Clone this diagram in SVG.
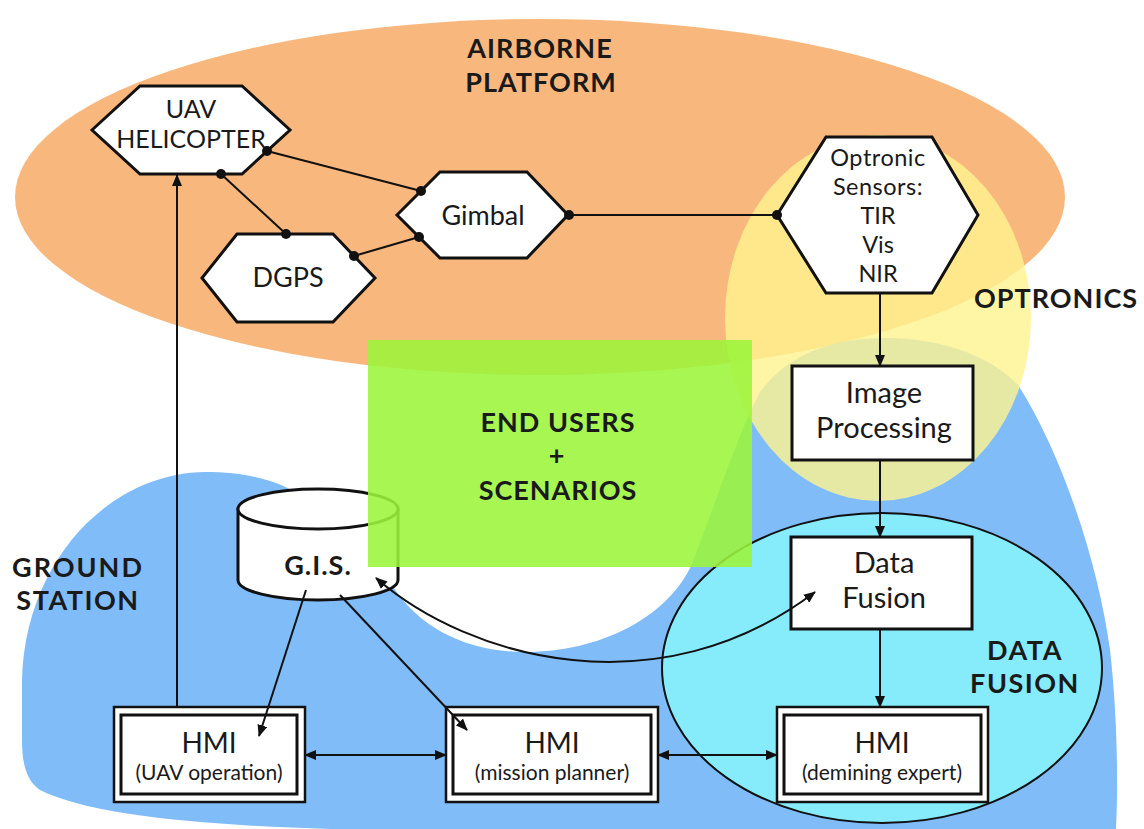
<svg xmlns="http://www.w3.org/2000/svg" width="1144" height="829" viewBox="0 0 1144 829">
<defs>
<marker id="ah" viewBox="0 0 12 10" markerWidth="12" markerHeight="10" refX="11" refY="5" orient="auto-start-reverse" markerUnits="userSpaceOnUse">
<path d="M0,0 L12,5 L0,10 z" fill="#111"/>
</marker>
<style>
.t{font-family:Lato,"Open Sans","DejaVu Sans",sans-serif;fill:#1a1a1a;text-anchor:middle}
.b{font-weight:bold;font-size:27px;letter-spacing:1px}
.hex{fill:#fff;stroke:#111;stroke-width:3;stroke-linejoin:miter}
.box{fill:#fff;stroke:#111;stroke-width:3}
.obox{fill:#fff;stroke:#111;stroke-width:2.5}
.ln{fill:none;stroke:#111;stroke-width:2}
.dot{fill:#111}
.sub{font-size:21px}
.hmi{font-size:28px}
.opt{font-size:23.5px}
</style>
</defs>
<rect width="1144" height="829" fill="#fff"/>
<g id="regions">
<ellipse id="airborne-region" cx="540" cy="197" rx="525" ry="178" fill="#f8b77d"/>
<path id="ground-region" d="M22,680 C25,560 110,473 205,472 C250,472 280,482 300,495 L392,585 C420,630 470,652 525,652 C600,652 665,618 690,568 C710,520 735,440 760,392 C790,352 835,338 885,338 C940,338 990,355 1018,385 C1060,450 1098,560 1110,650 C1118,720 1118,790 1116,829 L330,829 C200,825 90,815 40,790 C25,780 22,760 22,740 Z" fill="#80bcf8"/>
<ellipse id="optronics-region" cx="878" cy="318" rx="153" ry="183" fill="#fff48e" fill-opacity="0.8"/>
<ellipse id="fusion-region" cx="882" cy="668" rx="220" ry="155" fill="#86ebfb" stroke="#111" stroke-width="2"/>
</g>
<g id="gis">
<path d="M238,509 L238,580 A80,20 0 0 0 398,580 L398,509 Z" fill="#fff" stroke="#111" stroke-width="3"/>
<ellipse cx="318" cy="509" rx="80" ry="20" fill="#fff" stroke="#111" stroke-width="3"/>
<text class="t b" x="318" y="575">G.I.S.</text>
</g>
<rect id="endusers-region" x="368" y="340" width="384" height="227" fill="#9cf53a" fill-opacity="0.88"/>
<g id="labels">
<text class="t b" x="540" y="58">AIRBORNE</text>
<text class="t b" x="541" y="92">PLATFORM</text>
<text class="t b" x="1056" y="308">OPTRONICS</text>
<text class="t b" x="558" y="432">END USERS</text>
<text class="t b" x="557" y="465">+</text>
<text class="t b" x="558" y="500">SCENARIOS</text>
<text class="t b" x="78" y="577" style="letter-spacing:2px">GROUND</text>
<text class="t b" x="78" y="610" style="letter-spacing:1.5px">STATION</text>
<text class="t b" x="1025" y="660" style="letter-spacing:1.5px">DATA</text>
<text class="t b" x="1025" y="693" style="letter-spacing:1.5px">FUSION</text>
</g>
<g id="uav">
<polygon class="hex" points="92,130 140,86 242,86 290,130 242,174 140,174"/>
<text class="t" x="191" y="118" font-size="25">UAV</text>
<text class="t" x="191" y="148" font-size="25">HELICOPTER</text>
</g>
<g id="dgps">
<polygon class="hex" points="202,278 237,234 333,234 375,278 333,322 237,322"/>
<text class="t" x="288" y="287" font-size="27">DGPS</text>
</g>
<g id="gimbal">
<polygon class="hex" points="397,215 440,172 527,172 568,215 527,258 440,258"/>
<text class="t" x="483" y="225" font-size="27">Gimbal</text>
</g>
<g id="optronic">
<polygon class="hex" points="777,215 826,137 932,137 978,215 932,293 826,293"/>
<text class="t opt" x="878" y="166" style="letter-spacing:0.5px">Optronic</text>
<text class="t opt" x="878" y="195" style="letter-spacing:0.5px">Sensors:</text>
<text class="t opt" x="878" y="224">TIR</text>
<text class="t opt" x="878" y="253">Vis</text>
<text class="t opt" x="878" y="282">NIR</text>
</g>
<g id="imageproc">
<rect class="box" x="792" y="366" width="181" height="94"/>
<text class="t" x="884" y="403" font-size="29">Image</text>
<text class="t" x="884" y="438" font-size="29">Processing</text>
</g>
<g id="datafusion">
<rect class="box" x="791" y="537" width="181" height="92"/>
<text class="t" x="884" y="573" font-size="29">Data</text>
<text class="t" x="884" y="608" font-size="29">Fusion</text>
</g>
<g id="hmi-uav">
<rect class="obox" x="114" y="707" width="191" height="95"/>
<rect class="box" x="121" y="715" width="176" height="79"/>
<text class="t hmi" x="209" y="753">HMI</text>
<text class="t sub" x="209" y="780">(UAV operation)</text>
</g>
<g id="hmi-mission">
<rect class="obox" x="446" y="707" width="212" height="95"/>
<rect class="box" x="453" y="715" width="198" height="79"/>
<text class="t hmi" x="552" y="753">HMI</text>
<text class="t sub" x="552" y="780">(mission planner)</text>
</g>
<g id="hmi-demining">
<rect class="obox" x="777" y="707" width="211" height="95"/>
<rect class="box" x="784" y="715" width="197" height="79"/>
<text class="t hmi" x="882" y="753">HMI</text>
<text class="t sub" x="882" y="780">(demining expert)</text>
</g>
<g id="connectors">
<line class="ln" x1="267" y1="151" x2="421" y2="191"/>
<line class="ln" x1="221" y1="174" x2="286" y2="234"/>
<line class="ln" x1="354" y1="256" x2="419" y2="237"/>
<line class="ln" x1="568" y1="215" x2="777" y2="215"/>
<circle class="dot" cx="267" cy="151" r="5"/>
<circle class="dot" cx="221" cy="174" r="5"/>
<circle class="dot" cx="286" cy="234" r="5"/>
<circle class="dot" cx="354" cy="256" r="5"/>
<circle class="dot" cx="421" cy="191" r="5"/>
<circle class="dot" cx="419" cy="237" r="5"/>
<circle class="dot" cx="569" cy="215" r="5"/>
<circle class="dot" cx="777" cy="215" r="5"/>
<line class="ln" x1="880" y1="293" x2="880" y2="366" marker-end="url(#ah)"/>
<line class="ln" x1="880" y1="460" x2="880" y2="537" marker-end="url(#ah)"/>
<line class="ln" x1="880" y1="629" x2="880" y2="707" marker-end="url(#ah)"/>
<line class="ln" x1="177" y1="707" x2="177" y2="175" marker-end="url(#ah)"/>
<line class="ln" x1="306" y1="590" x2="259" y2="736" marker-end="url(#ah)"/>
<line class="ln" x1="340" y1="595" x2="467" y2="730" marker-end="url(#ah)"/>
<path class="ln" d="M376,578 C470,660 660,710 815,592" marker-start="url(#ah)" marker-end="url(#ah)"/>
<line class="ln" x1="305" y1="755" x2="446" y2="755" marker-start="url(#ah)" marker-end="url(#ah)"/>
<line class="ln" x1="658" y1="755" x2="777" y2="755" marker-start="url(#ah)" marker-end="url(#ah)"/>
</g>
</svg>
